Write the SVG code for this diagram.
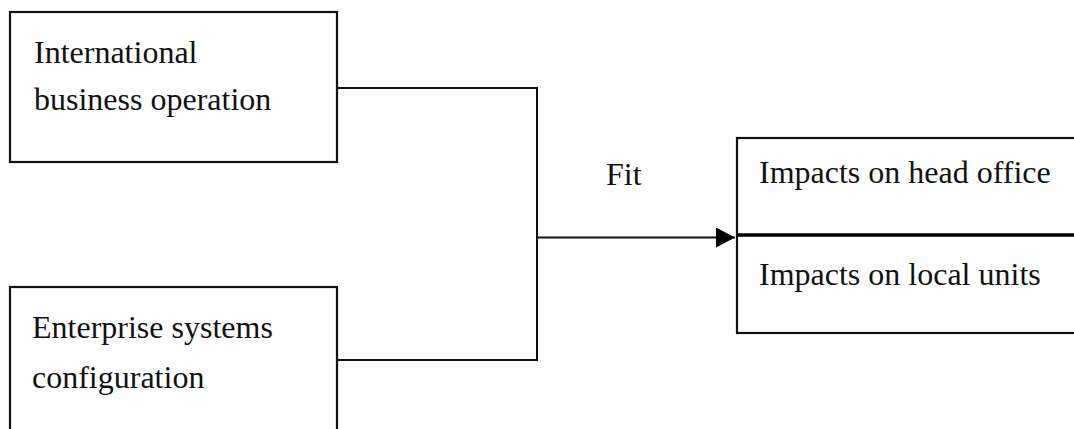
<svg xmlns="http://www.w3.org/2000/svg" width="1074" height="429" viewBox="0 0 1074 429">
<style>
.box{fill:#fff;stroke:#111;stroke-width:2.2}
.t{font-family:"Liberation Serif","Times New Roman",serif;font-size:32px;fill:#111}
.c{fill:none;stroke:#111;stroke-width:2}
</style>
<defs>
<marker id="ah" markerWidth="19" markerHeight="20" refX="19" refY="10" orient="auto" markerUnits="userSpaceOnUse" viewBox="0 0 19 20">
<path d="M0,0 L19,10 L0,20 Z" fill="#000"/>
</marker>
</defs>
<rect width="1074" height="429" fill="#fff"/>
<g id="connectors">
<path class="c" d="M337,88 H537 V360 H337"/>
<path class="c" d="M537,237.5 H735" marker-end="url(#ah)"/>
</g>
<g id="ibo">
<rect class="box" x="10" y="12" width="327" height="150"/>
<text class="t" x="34" y="63">International</text>
<text class="t" x="34" y="110">business operation</text>
</g>
<g id="esc">
<rect class="box" x="10" y="287" width="327" height="160"/>
<text class="t" x="32" y="338">Enterprise systems</text>
<text class="t" x="32" y="388">configuration</text>
</g>
<g id="fit">
<text class="t" x="606" y="185">Fit</text>
</g>
<g id="impacts">
<rect class="box" x="737" y="138" width="350" height="195"/>
<line x1="737" y1="235" x2="1074" y2="235" stroke="#000" stroke-width="3.5"/>
<text class="t" x="759" y="183">Impacts on head office</text>
<text class="t" x="759" y="285">Impacts on local units</text>
</g>
</svg>
